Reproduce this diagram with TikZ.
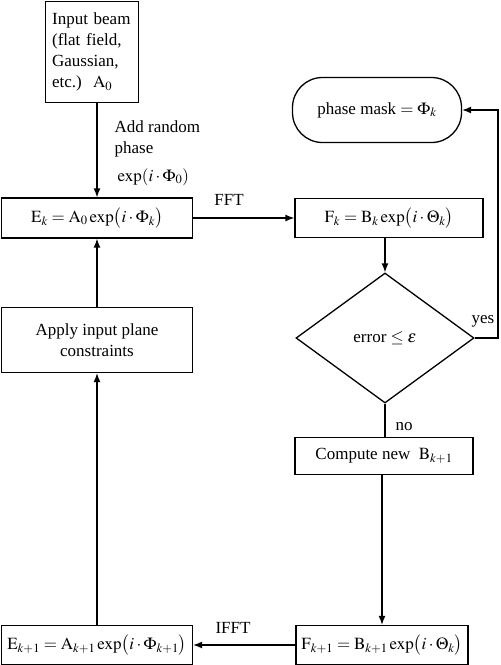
\documentclass[tikz,border=0pt]{standalone}
\usepackage{mathptmx}
\usepackage{fontspec}
\setmainfont{Liberation Serif}
\usetikzlibrary{arrows.meta,shapes.geometric}
\begin{document}
\begin{tikzpicture}
[x=1pt,y=-1pt,
font=\fontsize{17}{21}\selectfont,
every path/.style={line width=1.3pt},
box/.style={draw,rectangle,inner sep=2pt,align=center},
flow/.style={-{Latex[length=9pt,width=7pt]}}]
\useasboundingbox (0,0) rectangle (501,665);
% left column
\node[box,minimum width=93pt,minimum height=101pt,text width=80pt,align=left,anchor=north west] (input) at (45,0.8) {Input beam (flat field, Gaussian, etc.)~~$\mathrm{A}_0$};
\node[box,minimum width=191pt,minimum height=40pt] (Ek) at (97,218) {$\mathrm{E}_k=\mathrm{A}_0\exp\bigl(i\cdot\Phi_k\bigr)$};
\node[box,minimum width=191pt,minimum height=65pt] (apply) at (97,340) {Apply input plane\\constraints};
\node[box,minimum width=191pt,minimum height=39pt] (Ek1) at (97,645) {$\mathrm{E}_{k+1}=\mathrm{A}_{k+1}\exp\bigl(i\cdot\Phi_{k+1}\bigr)$};
% right column
\node[draw,rectangle,rounded corners=30pt,minimum width=169pt,minimum height=65pt] (mask) at (377,110) {phase mask $=\Phi_k$};
\node[box,minimum width=188pt,minimum height=39pt] (Fk) at (389,218) {$\mathrm{F}_k=\mathrm{B}_k\exp\bigl(i\cdot\Theta_k\bigr)$};
\node[draw,diamond,minimum width=178pt,minimum height=130pt,inner sep=0pt] (err) at (385,338) {error $\leq\varepsilon$};
\node[box,minimum width=178pt,minimum height=37pt] (comp) at (384,456) {Compute new~~$\mathrm{B}_{k+1}$};
\node[box,minimum width=172pt,minimum height=39pt] (Fk1) at (382,645) {$\mathrm{F}_{k+1}=\mathrm{B}_{k+1}\exp\bigl(i\cdot\Theta_k\bigr)$};
\coordinate (turn) at (498,338);
% connectors
\draw[flow] (Ek.north |- input.south) -- (Ek.north);
\draw[flow] (Ek.east) -- (Fk.west);
\draw[flow] (err.north |- Fk.south) -- (err.north);
\draw[flow] (err.east) -- (turn) |- (mask.east);
\draw (err.south) -- (err.south |- comp.north);
\draw[flow] (Fk1.north |- comp.south) -- (Fk1.north);
\draw[flow] (Fk1.west) -- (Ek1.east);
\draw[flow] (Ek1.north) -- (apply.south);
\draw[flow] (apply.north) -- (Ek.south);
% labels
\node[align=left,anchor=north west,inner sep=0pt] (addph) at (114,120) {Add random\\phase};
\node[anchor=west,inner sep=0pt] (expph) at (117,177) {$\exp(i\cdot\Phi_0)$};
\node (fft) at (229,200) {FFT};
\node (ifft) at (233,628) {IFFT};
\node (yes) at (483,321) {yes};
\node (no) at (404,427) {no};
\end{tikzpicture}
\end{document}
